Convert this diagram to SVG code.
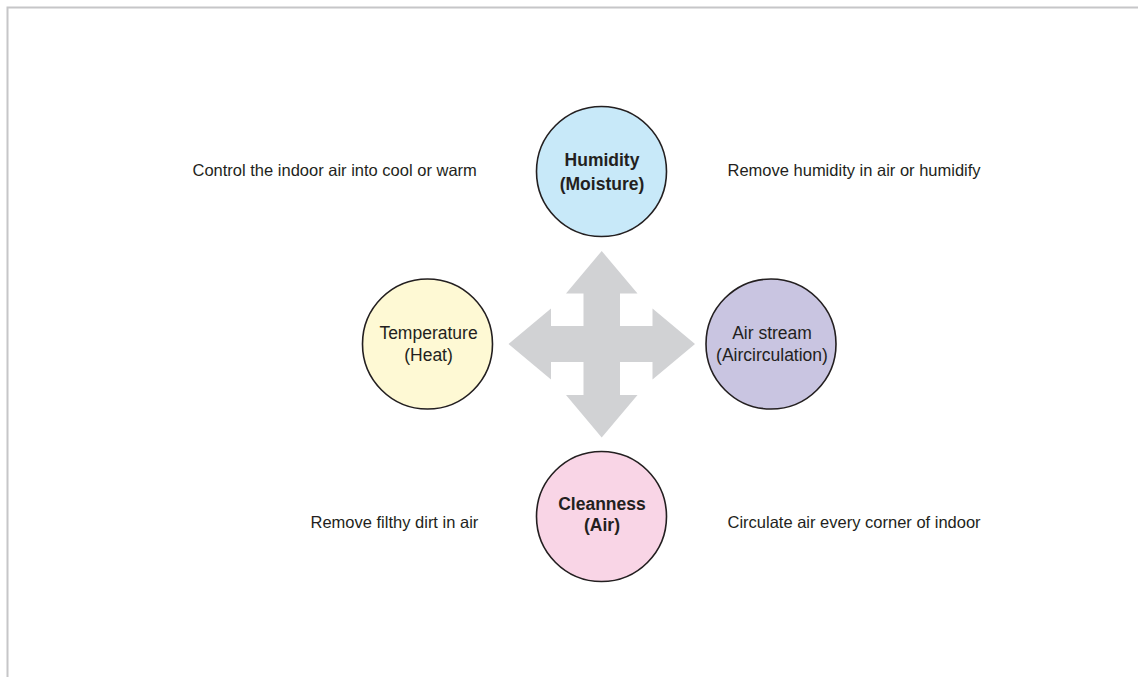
<svg xmlns="http://www.w3.org/2000/svg" width="1138" height="677" viewBox="0 0 1138 677">
<style>
.node{stroke:#231f20;stroke-width:1.6}
.lbl{font-family:"Liberation Sans",Arial,sans-serif;font-size:17.5px;fill:#231f20;text-anchor:middle}
.b{font-weight:bold}
.desc{font-family:"Liberation Sans",Arial,sans-serif;font-size:16.5px;fill:#231f20}
</style>
<rect width="1138" height="677" fill="#ffffff"/>
<g id="frame" fill="none" stroke="#c6c6c8" stroke-width="2">
<path d="M7.5,677 V7.5 H1138"/>
</g>
<g id="connectors">
<path id="cross" fill="#d1d2d4" d="M601.7,251 L637.5,293.5 L620,293.5 L620,326 L652.5,326 L652.5,308.5 L695,344 L652.5,379.5 L652.5,362 L620,362 L620,395 L637.5,395 L601.7,437.5 L566,395 L583.5,395 L583.5,362 L551,362 L551,379.5 L508.5,344 L551,308.5 L551,326 L583.5,326 L583.5,293.5 L566,293.5 Z"/>
</g>
<g id="humidity">
<circle class="node" cx="601.5" cy="171.5" r="65" fill="#c8e9f9"/>
<text class="lbl b" x="602" y="166">Humidity</text>
<text class="lbl b" x="602" y="190">(Moisture)</text>
</g>
<g id="temperature">
<circle class="node" cx="427.5" cy="344" r="65" fill="#fef9d4"/>
<text class="lbl" x="428.5" y="339">Temperature</text>
<text class="lbl" x="428.5" y="361">(Heat)</text>
</g>
<g id="airstream">
<circle class="node" cx="771" cy="344" r="65" fill="#c9c5e1"/>
<text class="lbl" x="772" y="339">Air stream</text>
<text class="lbl" x="772" y="361">(Aircirculation)</text>
</g>
<g id="cleanness">
<circle class="node" cx="601.5" cy="516.5" r="65" fill="#f9d5e6"/>
<text class="lbl b" x="602" y="510">Cleanness</text>
<text class="lbl b" x="602" y="531">(Air)</text>
</g>
<g id="descriptions">
<text class="desc" x="192.5" y="176">Control the indoor air into cool or warm</text>
<text class="desc" x="727.5" y="176">Remove humidity in air or humidify</text>
<text class="desc" x="310.5" y="528">Remove filthy dirt in air</text>
<text class="desc" x="727.5" y="528">Circulate air every corner of indoor</text>
</g>
</svg>
